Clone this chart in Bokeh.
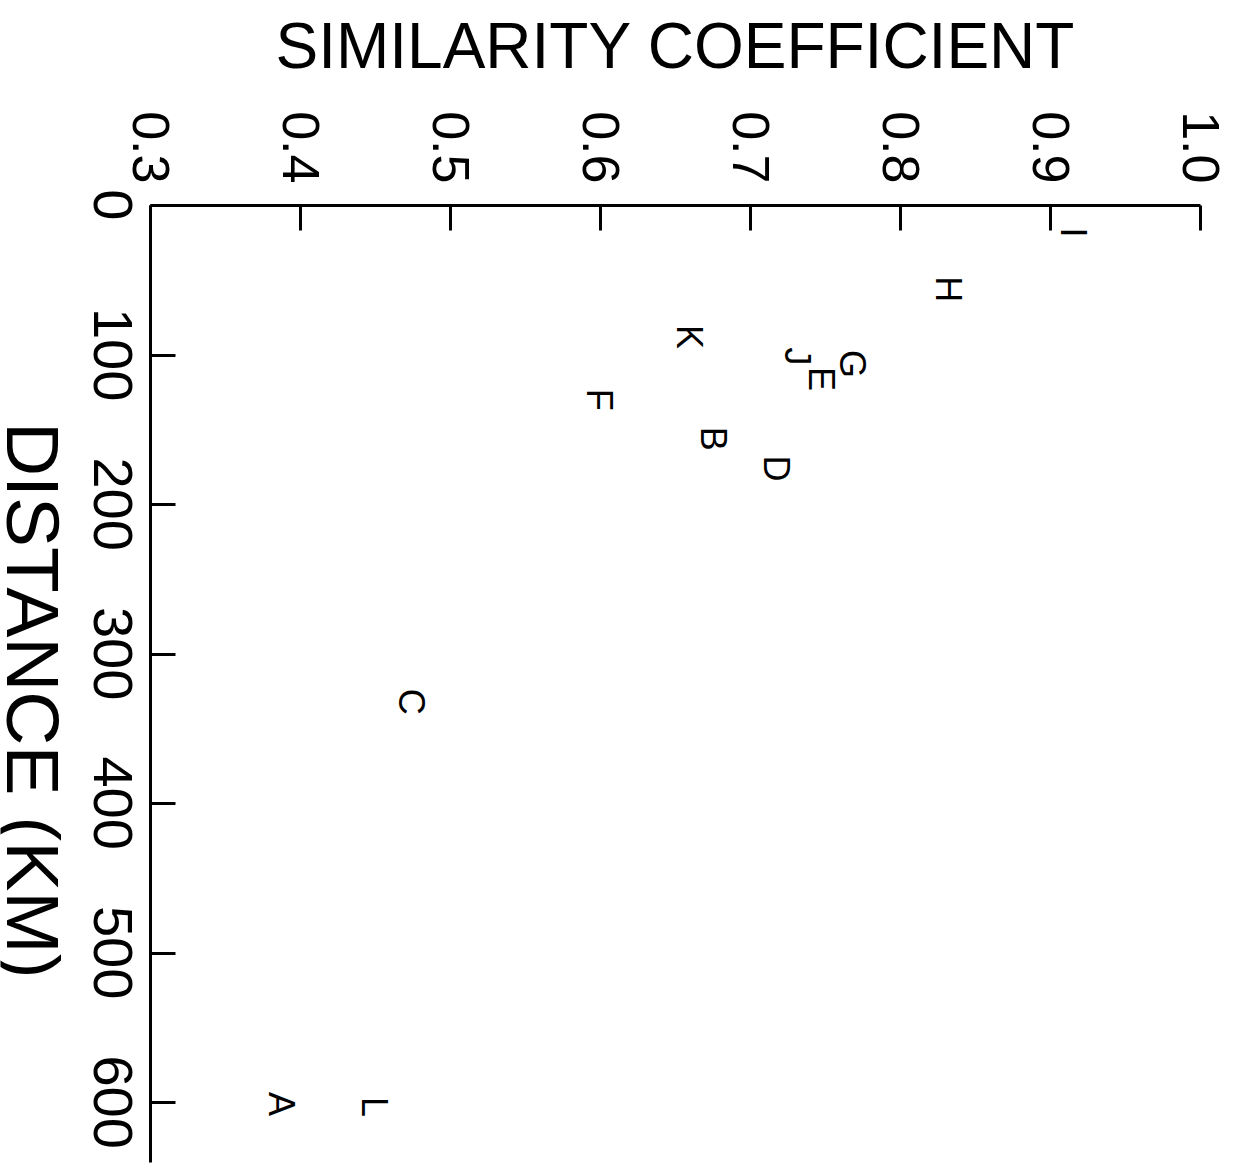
import math
from bokeh.plotting import figure
from bokeh.models import (Range1d, LinearAxis, FixedTicker, PrintfTickFormatter,
                          CustomJSTickFormatter, Label, ColumnDataSource)
from bokeh.core.properties import value
from bokeh.embed import file_html
from bokeh.resources import INLINE

# Data read from the (rotated) chart
sites = ["I", "H", "K", "J", "G", "E", "F", "B", "D", "C", "L", "A"]
similarity = [0.915, 0.832, 0.659, 0.731, 0.768, 0.747, 0.599, 0.675, 0.717, 0.474, 0.449, 0.387]
distance_km = [18, 56, 88, 101, 106, 116, 130, 156, 176, 332, 603, 601]

sim_ticks = [0.3, 0.4, 0.5, 0.6, 0.7, 0.8, 0.9, 1.0]
dist_ticks = [0, 100, 200, 300, 400, 500, 600]

FONT = "Liberation Sans"

# layout (pixels) -- the frame fills the canvas, axes are placed at fixed locations
W, H = 1230, 1166
AXIS_X_PX = 150            # x pixel of the distance axis (similarity 0.3)
AXIS_Y_PX = 205            # y pixel of the similarity axis (distance 0)
SIM_MIN, SIM_MAX = 0.3, 1.0
DIST_MAX = 640
px_per_sim = 1500.0
px_per_km = 1.495

x_start = SIM_MIN - AXIS_X_PX / px_per_sim
x_end = x_start + W / px_per_sim
y_top = -AXIS_Y_PX / px_per_km
y_bottom = (H - AXIS_Y_PX) / px_per_km

p = figure(width=W, height=H,
           x_range=Range1d(x_start, x_end), y_range=Range1d(y_bottom, y_top),
           x_axis_location=None, y_axis_location=None,
           output_backend="svg", toolbar_location=None,
           min_border=0, min_border_left=0, min_border_top=0,
           min_border_right=0, min_border_bottom=0)
p.title.visible = False
p.outline_line_color = None
p.xgrid.visible = False
p.ygrid.visible = False
p.background_fill_color = "white"
p.border_fill_color = "white"


def style(ax):
    ax.axis_line_width = 3
    ax.axis_line_color = "black"
    ax.major_tick_line_width = 3
    ax.major_tick_line_color = "black"
    ax.major_tick_in = 25
    ax.major_tick_out = 0
    ax.minor_tick_line_color = None
    ax.major_label_text_font = FONT
    ax.major_label_text_color = "black"
    ax.major_label_orientation = -math.pi / 2


# top axis: similarity coefficient
xaxis = LinearAxis(ticker=FixedTicker(ticks=sim_ticks),
                   formatter=PrintfTickFormatter(format="%.1f"),
                   bounds=(SIM_MIN, SIM_MAX), fixed_location=0)
style(xaxis)
xaxis.major_label_text_font_size = "52px"
xaxis.major_label_standoff = 22
p.add_layout(xaxis, "above")

# left axis: distance (line + ticks)
yaxis = LinearAxis(ticker=FixedTicker(ticks=dist_ticks), fixed_location=SIM_MIN,
                   bounds=(0, DIST_MAX),
                   formatter=CustomJSTickFormatter(code="return ''"))
style(yaxis)
yaxis.major_label_text_font_size = "1px"
yaxis.major_label_standoff = 0
p.add_layout(yaxis, "left")

# distance tick labels (rotated clockwise, centred on their ticks)
FS_Y = 56
dist_labels = [str(d) for d in dist_ticks]
label_pos = [d + round(len(s) * 0.556 * FS_Y / 2 / px_per_km) for d, s in zip(dist_ticks, dist_labels)]
ylab = LinearAxis(ticker=FixedTicker(ticks=label_pos), fixed_location=SIM_MIN,
                  formatter=CustomJSTickFormatter(args=dict(pos=label_pos, lab=dist_labels),
                                                  code="const i = pos.indexOf(tick); return i >= 0 ? lab[i] : '';"))
style(ylab)
ylab.axis_line_color = None
ylab.major_tick_line_color = None
ylab.major_tick_in = 0
ylab.major_label_text_font_size = f"{FS_Y}px"
ylab.major_label_standoff = 38
p.add_layout(ylab, "left")

# letters
src = ColumnDataSource(dict(x=similarity, y=distance_km, t=sites))
p.text(x="x", y="y", text="t", source=src, angle=-math.pi / 2,
       text_align="center", text_baseline="middle",
       text_font=value(FONT), text_font_size="36px", text_color="black")

# axis titles
p.add_layout(Label(x=x_start + 675 / px_per_sim, y=-(AXIS_Y_PX - 45) / px_per_km,
                   text="SIMILARITY COEFFICIENT",
                   text_align="center", text_baseline="middle",
                   text_font=FONT, text_font_size="64px", text_color="black"))
p.add_layout(Label(x=x_start + 32 / px_per_sim, y=331, text="DISTANCE (KM)", angle=-math.pi / 2,
                   text_align="center", text_baseline="middle",
                   text_font=FONT, text_font_size="75px", text_color="black"))

open("out.html", "w").write(file_html(p, INLINE))
